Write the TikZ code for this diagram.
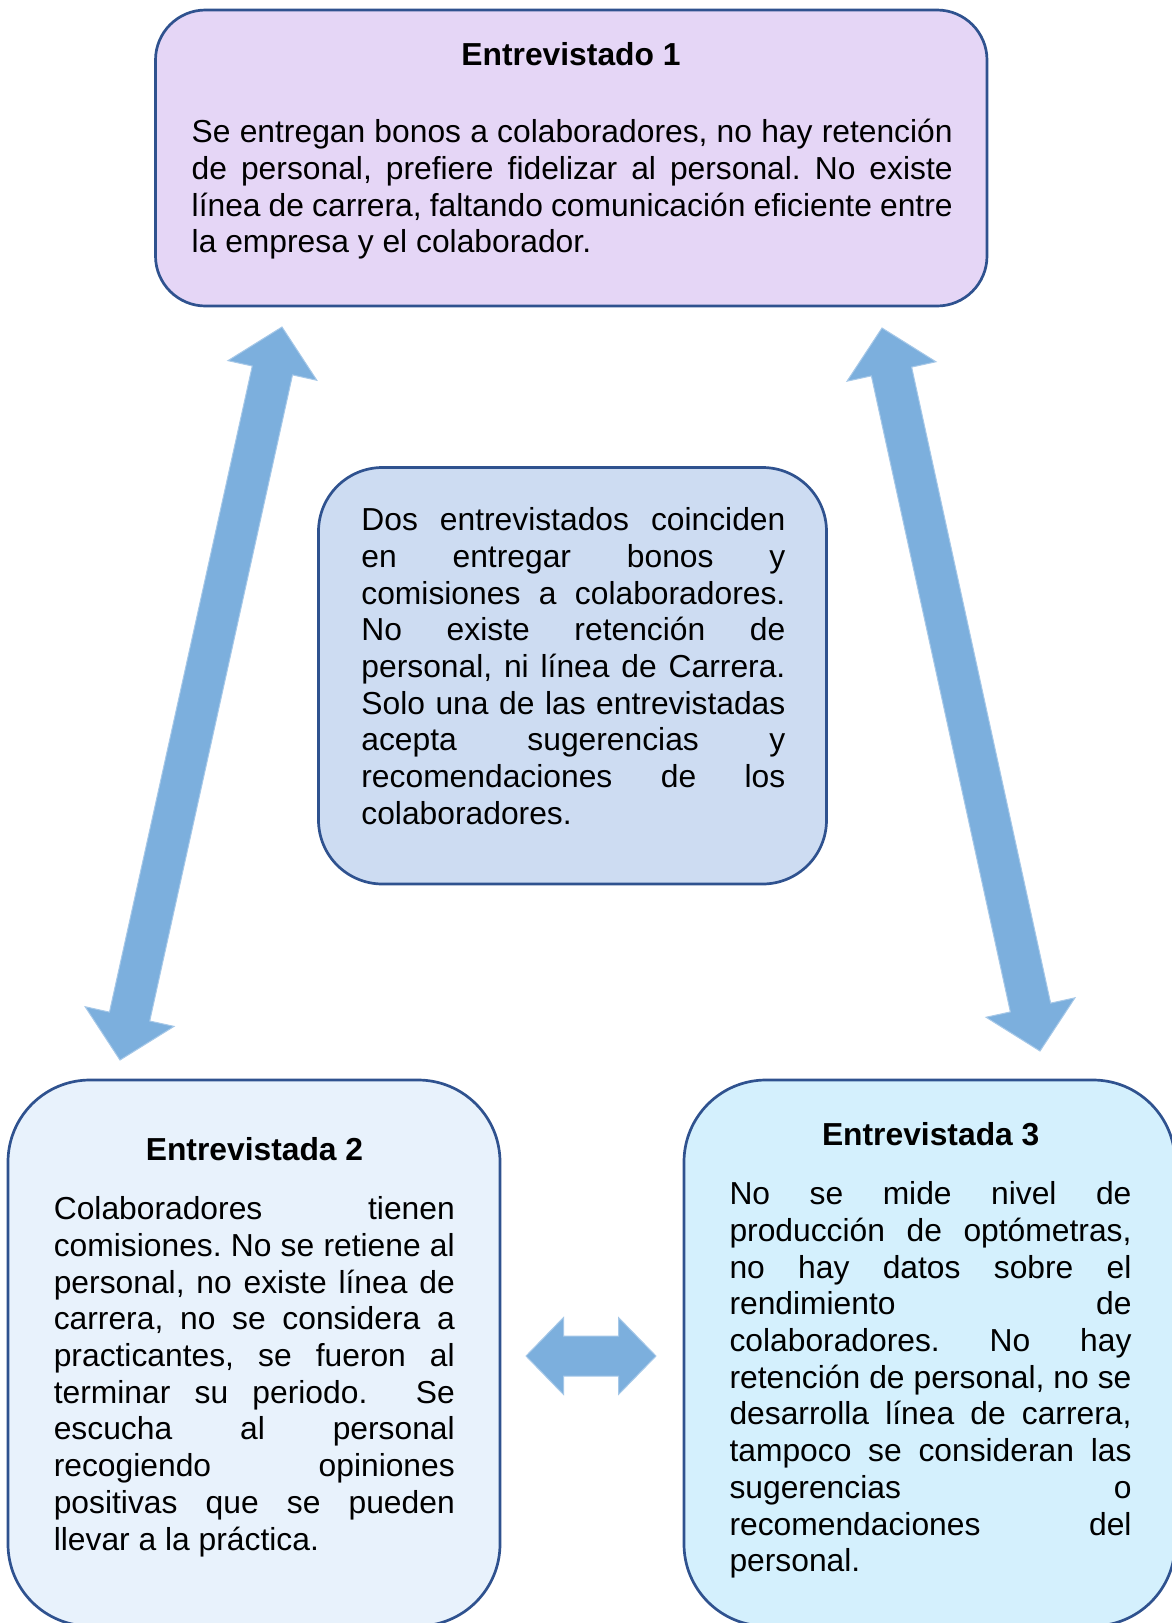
\documentclass[tikz,border=0pt]{standalone}
\usepackage{fontspec}
\setmainfont{Liberation Sans}
\usetikzlibrary{calc}

\definecolor{boxline}{HTML}{2F528F}
\definecolor{lila}{HTML}{E5D6F6}
\definecolor{celeste}{HTML}{CDDCF2}
\definecolor{claro}{HTML}{E8F2FC}
\definecolor{cian}{HTML}{D4F0FD}
\definecolor{flecha}{HTML}{7CAFDD}
\definecolor{flechaborde}{HTML}{A6C8E8}

\newcommand{\firststrut}{\rule{0pt}{30pt}}
% fat double arrow between two tips: head length, head half width, shaft half width
\newcommand{\dblarrow}[5]{%
  \coordinate (ha) at ($(#1)!#3!(#2)$);
  \coordinate (hb) at ($(#2)!#3!(#1)$);
  \filldraw[fatarrow] (#1) -- ($(ha)!#4!90:(#2)$) -- ($(ha)!#5!90:(#2)$)
    -- ($(hb)!#5!-90:(#1)$) -- ($(hb)!#4!-90:(#1)$) -- (#2)
    -- ($(hb)!#4!90:(#1)$) -- ($(hb)!#5!90:(#1)$)
    -- ($(ha)!#5!-90:(#2)$) -- ($(ha)!#4!-90:(#2)$) -- cycle;}

\begin{document}
\begin{tikzpicture}[x=1pt,y=-1pt,
  box/.style={draw=boxline,line width=2.7pt,inner sep=0pt},
  title/.style={font=\bfseries\fontsize{31.8}{36.7}\selectfont,anchor=base,inner sep=0pt},
  body/.style={font={\fontsize{31.8}{36.7}\selectfont\frenchspacing\hyphenpenalty=10000\tolerance=10000},align=justify,anchor=north west,inner sep=0pt},
  fatarrow/.style={fill=flecha,draw=flechaborde,line width=1pt}]
\fill[white] (0,0) rectangle (1172,1623);
\useasboundingbox (0,0) rectangle (1172,1623);

% boxes
\node[box,fill=lila,rounded corners=50pt,minimum width=831.5pt,minimum height=296pt] (e1) at (571.25,158) {};
\node[box,fill=celeste,rounded corners=64pt,minimum width=508pt,minimum height=416.5pt] (cen) at (572.5,675.75) {};
\node[box,fill=claro,rounded corners=82pt,minimum width=492pt,minimum height=546pt] (e2) at (254,1353) {};
\node[box,fill=cian,rounded corners=82pt,minimum width=491pt,minimum height=546pt] (e3) at (929.5,1353) {};

% texts
\node[title] (e1h) at (571,65) {Entrevistado 1};
\node[body,text width=761pt] (e1b) at (191.5,112.5) {\firststrut Se entregan bonos a colaboradores, no hay retención\linebreak
de personal, prefiere fidelizar al personal. No existe\linebreak
línea de carrera, faltando comunicación eficiente entre\linebreak
la empresa y el colaborador.};

\node[body,text width=424pt] (cenb) at (361.2,500.5) {\firststrut Dos entrevistados coinciden\linebreak
en entregar bonos y\linebreak
comisiones a colaboradores.\linebreak
No existe retención de\linebreak
personal, ni línea de Carrera.\linebreak
Solo una de las entrevistadas\linebreak
acepta sugerencias y\linebreak
recomendaciones de los\linebreak
colaboradores.};

\node[title] (e2h) at (254.5,1160.5) {Entrevistada 2};
\node[body,text width=401pt] (e2b) at (53.6,1189.5) {\firststrut Colaboradores tienen\linebreak
comisiones. No se retiene al\linebreak
personal, no existe línea de\linebreak
carrera, no se considera a\linebreak
practicantes, se fueron al\linebreak
terminar su periodo.\ \ Se\linebreak
escucha al personal\linebreak
recogiendo opiniones\linebreak
positivas que se pueden\linebreak
llevar a la práctica.};

\node[title] (e3h) at (930.7,1145.5) {Entrevistada 3};
\node[body,text width=402pt] (e3b) at (729.3,1174.5) {\firststrut No se mide nivel de\linebreak
producción de optómetras,\linebreak
no hay datos sobre el\linebreak
rendimiento de\linebreak
colaboradores. No hay\linebreak
retención de personal, no se\linebreak
desarrolla línea de carrera,\linebreak
tampoco se consideran las\linebreak
sugerencias o\linebreak
recomendaciones del\linebreak
personal.};

% arrows
\coordinate (a1t) at (282,327);
\coordinate (a1b) at (120,1060);
\coordinate (a2t) at (882,328);
\coordinate (a2b) at (1040,1051);
\coordinate (a3l) at (526,1356);
\coordinate (a3r) at (656,1356);
\dblarrow{a1b}{a1t}{44.5pt}{45.5pt}{20.6pt}
\dblarrow{a2t}{a2b}{44.5pt}{45.5pt}{20.6pt}
\dblarrow{a3l}{a3r}{37.5pt}{38.5pt}{20pt}
\end{tikzpicture}
\end{document}
